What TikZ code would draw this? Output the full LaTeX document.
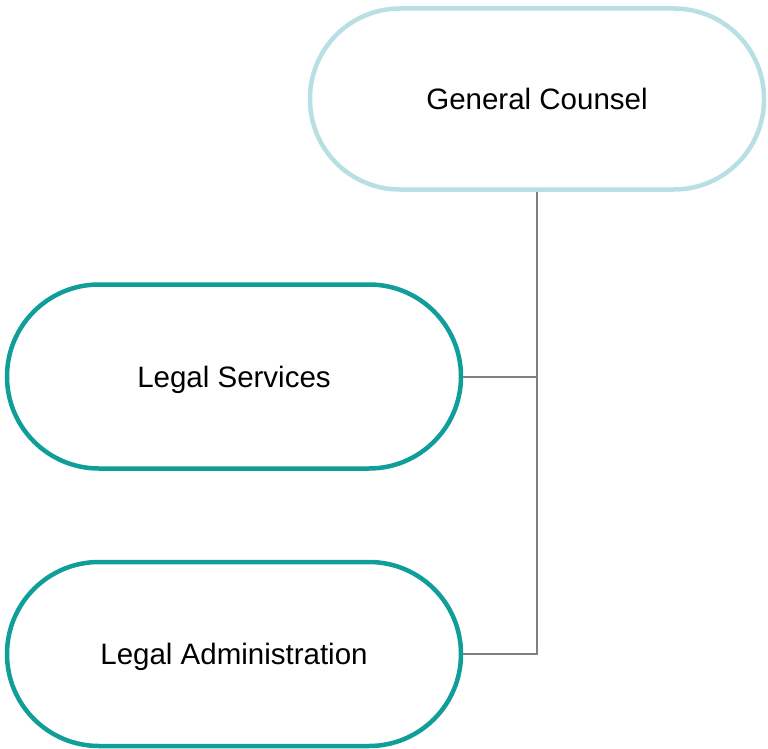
\documentclass[tikz,border=0pt]{standalone}
\usepackage{fontspec}
\setmainfont{Liberation Sans}
\usetikzlibrary{positioning}
\definecolor{headblue}{HTML}{B8DFE3}
\definecolor{unitteal}{HTML}{0F9E9A}
\definecolor{linkgray}{HTML}{808080}

\begin{document}
\begin{tikzpicture}[x=1pt,y=-1pt,
%defines
  head/.style={rectangle,draw=headblue,line width=4.5pt,rounded corners=90pt,
minimum width=454pt,minimum height=181pt,inner sep=0pt,text depth=0pt,
font=\fontsize{29.5}{35}\selectfont},
unit/.style={rectangle,draw=unitteal,line width=4.5pt,rounded corners=92pt,
minimum width=454pt,minimum height=184pt,inner sep=0pt,text depth=0pt,
font=\fontsize{29.5}{35}\selectfont},
link/.style={draw=linkgray,line width=2pt}]
\useasboundingbox (0,0) rectangle (768,749);
%nodes
\node[head] (counsel)  at (537,99)                        {General Counsel};
\node[unit] (services) [below=90.5pt of counsel,xshift=-303pt] {Legal Services};
\node[unit] (admin)    [below=89pt of services]           {Legal Administration};
%links
\draw [link] (counsel.south) -- (counsel.south |- admin.east) -- (admin.east);
\draw [link] (services.east) -- (services.east -| counsel.south);
\end{tikzpicture}
\end{document}
